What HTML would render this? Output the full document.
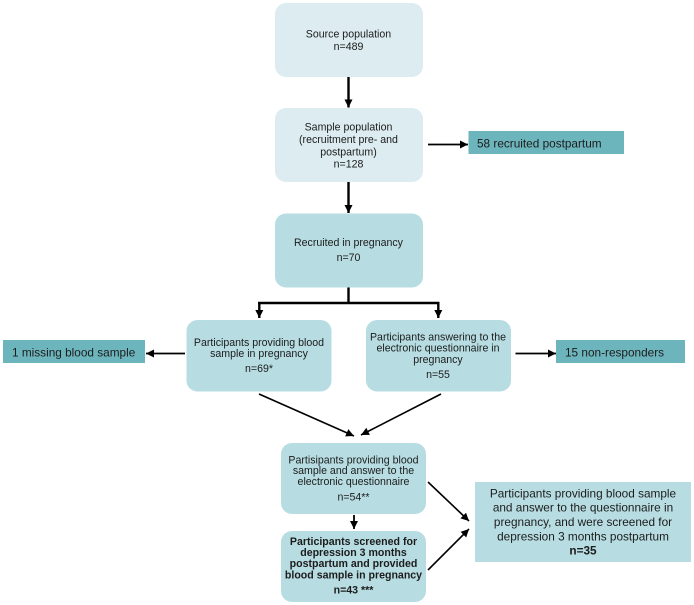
<!DOCTYPE html>
<html>
<head>
<meta charset="utf-8">
<style>
html,body{margin:0;padding:0;background:#fff;width:694px;height:605px;overflow:hidden}
svg{display:block;font-family:"Liberation Sans",Arial,sans-serif}
text{fill:#1c1c1c;font-size:10.6px;text-anchor:middle}
.s{text-anchor:start;font-size:11.8px}
.r{font-size:11.8px}
.b{font-weight:bold}
.l{stroke:#000;fill:none}
</style>
</head>
<body>
<svg width="694" height="605" viewBox="0 0 694 605">
<defs>
<marker id="a" markerUnits="userSpaceOnUse" markerWidth="10" markerHeight="10" refX="8" refY="4" orient="auto"><path d="M0 0L8 4L0 8Z" fill="#000"/></marker>
</defs>

<rect x="275" y="3" width="148" height="74" rx="11" fill="#dcecf0"/>
<rect x="275" y="108" width="148" height="74" rx="11" fill="#dcecf0"/>
<rect x="275" y="213.500" width="148" height="74" rx="11" fill="#b7dde2"/>
<rect x="186.500" y="320" width="145" height="71.500" rx="11" fill="#b7dde2"/>
<rect x="366" y="320" width="145" height="71.500" rx="11" fill="#b7dde2"/>
<rect x="281" y="443" width="145" height="71" rx="11" fill="#b7dde2"/>
<rect x="281" y="531" width="145" height="71" rx="11" fill="#b7dde2"/>
<rect x="475" y="482" width="216" height="80" fill="#b7dde2"/>
<rect x="468.500" y="131" width="155.500" height="23" fill="#6db5bd"/>
<rect x="3" y="340" width="142" height="23" fill="#6db5bd"/>
<rect x="556" y="340" width="129" height="23" fill="#6db5bd"/>

<line class="l" stroke-width="2.400" x1="348.500" y1="77" x2="348.500" y2="107.500" marker-end="url(#a)"/>
<line class="l" stroke-width="2.400" x1="348.500" y1="182" x2="348.500" y2="213" marker-end="url(#a)"/>
<line class="l" stroke-width="2.400" x1="348.500" y1="287.500" x2="348.500" y2="303"/>
<line class="l" stroke-width="2.400" x1="258" y1="303" x2="439.500" y2="303"/>
<line class="l" stroke-width="2.400" x1="259.300" y1="302" x2="259.300" y2="318" marker-end="url(#a)"/>
<line class="l" stroke-width="2.400" x1="438.300" y1="302" x2="438.300" y2="318" marker-end="url(#a)"/>
<line class="l" stroke-width="1.800" x1="428" y1="144.500" x2="468" y2="144.500" marker-end="url(#a)"/>
<line class="l" stroke-width="1.800" x1="185" y1="353.500" x2="146" y2="353.500" marker-end="url(#a)"/>
<line class="l" stroke-width="1.800" x1="515.500" y1="353.500" x2="556" y2="353.500" marker-end="url(#a)"/>
<line class="l" stroke-width="1.600" x1="259" y1="394" x2="354" y2="436" marker-end="url(#a)"/>
<line class="l" stroke-width="1.600" x1="441" y1="394" x2="361" y2="435" marker-end="url(#a)"/>
<line class="l" stroke-width="1.800" x1="354" y1="515" x2="354" y2="529" marker-end="url(#a)"/>
<line class="l" stroke-width="1.600" x1="428" y1="482" x2="469" y2="521" marker-end="url(#a)"/>
<line class="l" stroke-width="1.600" x1="428" y1="570" x2="469" y2="529" marker-end="url(#a)"/>

<text x="348.500" y="37.700">Source population</text>
<text x="348.500" y="50">n=489</text>
<text x="348.500" y="130.500">Sample population</text>
<text x="348.500" y="143">(recruitment pre- and</text>
<text x="348.500" y="155.500">postpartum)</text>
<text x="348.500" y="167.700">n=128</text>
<text x="348.500" y="246">Recruited in pregnancy</text>
<text x="348.500" y="261">n=70</text>

<text class="s" x="477" y="147.300">58 recruited postpartum</text>
<text class="s" x="12" y="356.300">1 missing blood sample</text>
<text class="s" x="565" y="356.300">15 non-responders</text>

<text x="259" y="346">Participants providing blood</text>
<text x="259" y="357">sample in pregnancy</text>
<text x="259" y="372">n=69*</text>

<text x="438" y="340.300">Participants answering to the</text>
<text x="438" y="351.500">electronic questionnaire in</text>
<text x="438" y="363">pregnancy</text>
<text x="438" y="378">n=55</text>

<text x="353.500" y="463.300">Partisipants providing blood</text>
<text x="353.500" y="474">sample and answer to the</text>
<text x="353.500" y="485">electronic questionnaire</text>
<text x="353.500" y="500.700">n=54**</text>

<text class="b" x="353.500" y="545">Participants screened for</text>
<text class="b" x="353.500" y="556">depression 3 months</text>
<text class="b" x="353.500" y="567">postpartum and provided</text>
<text class="b" x="353.500" y="578.300">blood sample in pregnancy</text>
<text class="b" x="353.500" y="593.300">n=43 ***</text>

<text class="r" x="583" y="497.300">Participants providing blood sample</text>
<text class="r" x="583" y="511.700">and answer to the questionnaire in</text>
<text class="r" x="583" y="526">pregnancy, and were screened for</text>
<text class="r" x="583" y="540.300">depression 3 months postpartum</text>
<text class="r b" x="583" y="554.300">n=35</text>
</svg>
</body>
</html>
